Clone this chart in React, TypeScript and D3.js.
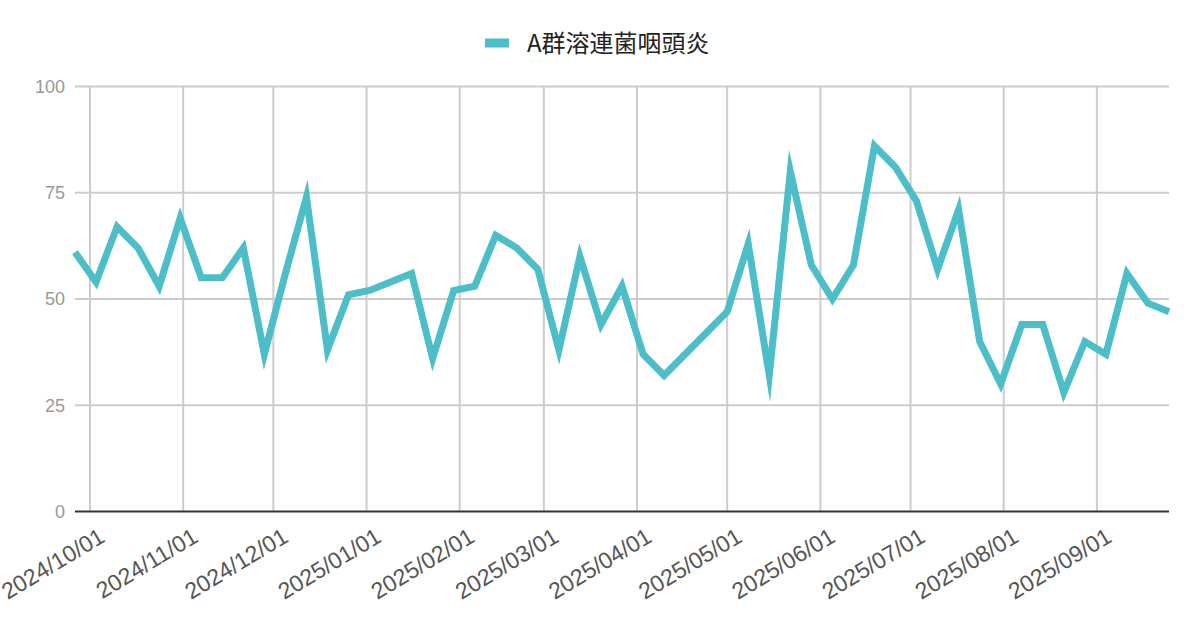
import React from "react";
import * as d3 from "d3";

const seriesName = "A群溶連菌咽頭炎";
const startDate = new Date(2024, 8, 26);
const values = [61, 54, 67, 62, 53, 69, 55, 55, 62, 37, 56, 74, 38, 51, 52, 54, 56, 36, 52, 53, 65, 62, 57, 38, 60, 44, 53, 37, 32, 37, 42, 47, 63, 32, 80, 58, 50, 58, 86, 81, 73, 57, 71, 40, 30, 44, 44, 28, 40, 37, 56, 49, 47];
const yTicks = [0, 25, 50, 75, 100];
const monthTicks = [
  new Date(2024, 9, 1), new Date(2024, 10, 1), new Date(2024, 11, 1),
  new Date(2025, 0, 1), new Date(2025, 1, 1), new Date(2025, 2, 1),
  new Date(2025, 3, 1), new Date(2025, 4, 1), new Date(2025, 5, 1),
  new Date(2025, 6, 1), new Date(2025, 7, 1), new Date(2025, 8, 1),
];

const W = 1200, H = 626;
const left = 75, right = 1169, top = 86.5, bottom = 511.5;
const color = "#4bbec8";

export default function App() {
  const dates = values.map((_, i) => d3.timeDay.offset(startDate, 7 * i));
  const x = d3.scaleTime().domain([dates[0], dates[dates.length - 1]]).range([left, right]);
  const y = d3.scaleLinear().domain([0, 100]).range([bottom, top]);
  const line = d3.line<number>().x((_, i) => x(dates[i])).y((d) => y(d));
  const fmt = d3.timeFormat("%Y/%m/%d");
  return (
    <svg width={W} height={H} style={{ position: "absolute", left: 0, top: 0, background: "#fff" }}
      fontFamily="'Liberation Sans', Arial, sans-serif">
      <rect x={485} y={38.5} width={24} height={9} fill={color} />
      <text x={527} y={52} fontSize={24} fill="#222" fontFamily="'Noto Sans CJK JP', sans-serif">{seriesName}</text>
      {yTicks.filter((t) => t > 0).map((t) => (
        <line key={"h" + t} x1={left} x2={right} y1={y(t)} y2={y(t)} stroke="#cccccc" strokeWidth={2} />
      ))}
      {monthTicks.map((d, i) => (
        <line key={"v" + i} x1={x(d)} x2={x(d)} y1={top} y2={bottom} stroke="#cccccc" strokeWidth={2} />
      ))}
      <line x1={left} x2={right} y1={y(0)} y2={y(0)} stroke="#333" strokeWidth={2} />
      {yTicks.map((t) => (
        <text key={"yl" + t} x={65} y={y(t)} dy="0.35em" textAnchor="end" fontSize={18} fill="#999">{t}</text>
      ))}
      {monthTicks.map((d, i) => (
        <text key={"xl" + i} transform={`translate(${x(d) + 8},${527}) rotate(-31)`} textAnchor="end"
          dy="0.7em" fontSize={23} fill="#555">{fmt(d)}</text>
      ))}
      <path d={line(values) || ""} fill="none" stroke={color} strokeWidth={7} strokeLinejoin="miter" strokeMiterlimit={10} />
    </svg>
  );
}
